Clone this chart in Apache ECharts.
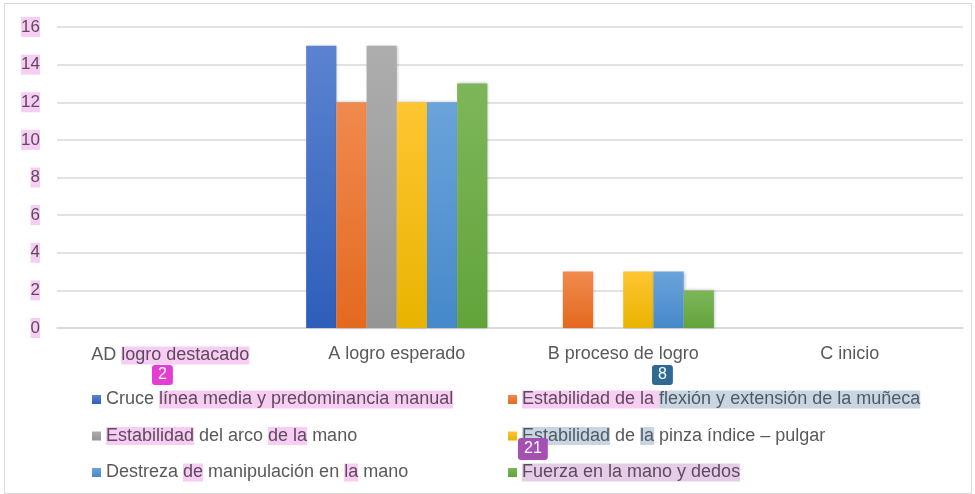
<!DOCTYPE html>
<html>
<head>
<meta charset="utf-8">
<script src="https://cdn.jsdelivr.net/npm/echarts@6/dist/echarts.min.js"></script>
<style>
html, body { margin: 0; padding: 0; background: #fff; }
#chart { width: 975px; height: 494px; }
</style>
</head>
<body>
<div id="chart"></div>
<script>
var categories = ['AD logro destacado', 'A logro esperado', 'B proceso de logro', 'C inicio']
var seriesNames = [
    'Cruce línea media y predominancia manual',
    'Estabilidad de la flexión y extensión de la muñeca',
    'Estabilidad del arco de la mano',
    'Estabilidad de la pinza índice – pulgar',
    'Destreza de manipulación en la mano',
    'Fuerza en la mano y dedos'
]
var cruce = [0, 15, 0, 0]
var flexion = [0, 12, 3, 0]
var arco = [0, 15, 0, 0]
var pinza = [0, 12, 3, 0]
var destreza = [0, 12, 3, 0]
var fuerza = [0, 13, 2, 0]
var seriesValues = [cruce, flexion, arco, pinza, destreza, fuerza]

// top / bottom colours of the office style gradient
var topColors = ['#5B83D0', '#F08A4E', '#ADADAD', '#FFC533', '#6BA3DB', '#7DB65A']
var bottomColors = ['#2E5EBA', '#E4691F', '#959595', '#E8B400', '#4589CA', '#62A43A']

// highlighted words (pdf annotation look)
var legendLabels = {}
legendLabels[seriesNames[0]] = 'Cruce {p|línea media y predominancia manual}'
legendLabels[seriesNames[1]] = '{p|Estabilidad de la }{b|flexión y extensión de la muñeca}'
legendLabels[seriesNames[2]] = '{p|Estabilidad} del arco {p|de la} mano'
legendLabels[seriesNames[3]] = '{b|Estabilidad} de {b|la} pinza índice – pulgar'
legendLabels[seriesNames[4]] = 'Destreza {p|de} manipulación en {p|la} mano'
legendLabels[seriesNames[5]] = '{v|Fuerza en la mano y dedos}'

var font = 'Liberation Sans'
var fs = 18
var richStyles = {
    p: { backgroundColor: '#F8CDF4', color: '#5E4A5E', fontSize: fs, lineHeight: 21, fontFamily: font },
    b: { backgroundColor: '#C9D6E1', color: '#4E5A64', fontSize: fs, lineHeight: 21, fontFamily: font },
    v: { backgroundColor: '#E5CDE8', color: '#5E4A5E', fontSize: fs, lineHeight: 21, fontFamily: font }
}

var chart = echarts.init(document.getElementById('chart'))

var series = []
for (var i in seriesNames) {
    series.push({
        name: seriesNames[i],
        type: 'bar',
        barGap: '0%',
        barCategoryGap: '20%',
        data: seriesValues[i],
        itemStyle: {
            color: new echarts.graphic.LinearGradient(0, 0, 0, 1, [
                { offset: 0, color: topColors[i] },
                { offset: 1, color: bottomColors[i] }
            ]),
            shadowColor: 'rgba(0,0,0,0.25)',
            shadowBlur: 3,
            shadowOffsetX: 1
        },
        emphasis: { disabled: true }
    })
}

function legendFmt(name) {
    return legendLabels[name]
}

var legendText = {
    color: '#595959',
    fontSize: fs,
    lineHeight: 21,
    fontFamily: font,
    rich: richStyles
}

var option = {
    animation: false,
    grid: { left: 57, right: 12, top: 27, bottom: 166 },
    xAxis: {
        type: 'category',
        data: categories,
        axisLine: { show: true, lineStyle: { color: '#D9D9D9', width: 1.5 } },
        axisTick: { show: false },
        axisLabel: {
            interval: 0,
            color: '#595959',
            fontSize: fs,
            fontFamily: font,
            margin: 17,
            formatter: function (v) {
                if (v == 'AD logro destacado') return 'AD {p|logro destacado}'
                return v
            },
            rich: richStyles
        }
    },
    yAxis: {
        type: 'value',
        min: 0,
        max: 16,
        interval: 2,
        axisLine: { show: false },
        axisTick: { show: false },
        splitLine: { lineStyle: { color: '#D9D9D9', width: 1.5 } },
        axisLabel: {
            color: '#5E4A5E',
            fontSize: 17,
            fontFamily: font,
            margin: 17,
            backgroundColor: '#F8CDF4',
            padding: [2, 0, 1, 0]
        }
    },
    legend: [
        {
            orient: 'vertical',
            left: 87,
            top: 384,
            itemWidth: 9,
            itemHeight: 9,
            itemGap: 15.5,
            icon: 'rect',
            data: [seriesNames[0], seriesNames[2], seriesNames[4]],
            formatter: legendFmt,
            textStyle: legendText,
            selectedMode: false
        },
        {
            orient: 'vertical',
            left: 503,
            top: 384,
            itemWidth: 9,
            itemHeight: 9,
            itemGap: 15.5,
            icon: 'rect',
            data: [seriesNames[1], seriesNames[3], seriesNames[5]],
            formatter: legendFmt,
            textStyle: legendText,
            selectedMode: false
        }
    ],
    graphic: [
        {
            type: 'rect',
            shape: { x: 4.5, y: 3.5, width: 967, height: 490 },
            style: { fill: 'none', stroke: '#D9D9D9', lineWidth: 1 },
            silent: true
        },
        {
            type: 'text', left: 152, top: 365, z: 100,
            style: { text: '2', fill: '#fff', font: '16px Liberation Sans', backgroundColor: '#E33DD2', padding: [2, 6, 2, 6], borderRadius: 3 }
        },
        {
            type: 'text', left: 652, top: 365, z: 100,
            style: { text: '8', fill: '#fff', font: '16px Liberation Sans', backgroundColor: '#2F6A95', padding: [2, 6, 2, 6], borderRadius: 3 }
        },
        {
            type: 'text', left: 518, top: 438, z: 100,
            style: { text: '21', fill: '#fff', font: '16px Liberation Sans', backgroundColor: '#A54FB3', padding: [3, 6, 3, 6], borderRadius: 3 }
        }
    ],
    series: series
}

chart.setOption(option)
</script>
</body>
</html>
